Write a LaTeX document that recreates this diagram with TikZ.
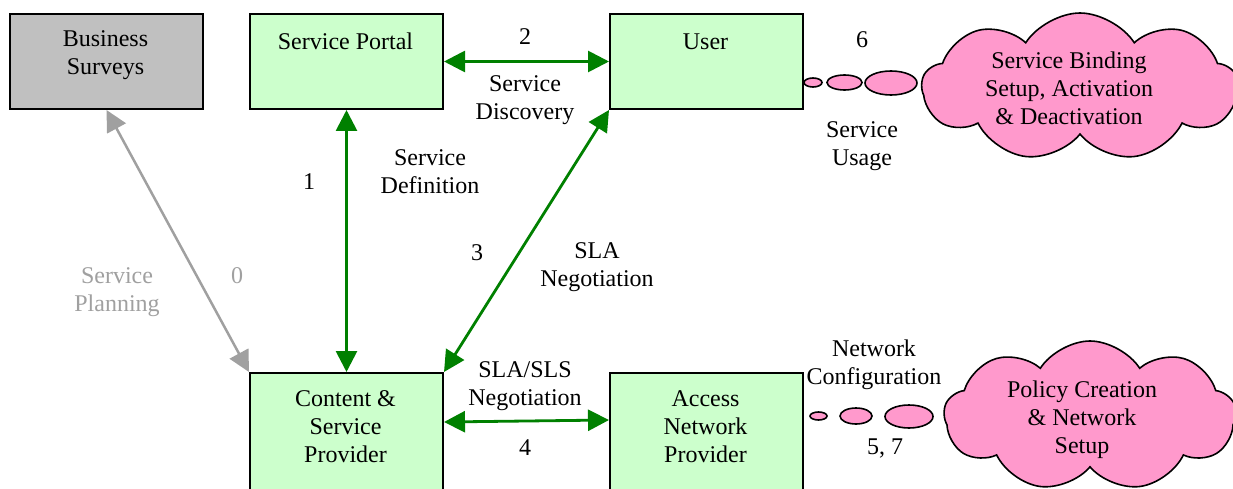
\documentclass[tikz,border=0pt]{standalone}
\usepackage{fontspec}
\setmainfont{Liberation Serif}
\usetikzlibrary{arrows.meta,shapes.symbols,shapes.geometric,calc}

\definecolor{boxgreen}{HTML}{CCFFCC}
\definecolor{boxgray}{HTML}{C0C0C0}
\definecolor{linkgreen}{HTML}{008000}
\definecolor{linkgray}{HTML}{A0A0A0}
\definecolor{cloudpink}{HTML}{FF99CC}

\tikzset{
  txt/.style={font=\fontsize{24}{28}\selectfont, align=center, inner sep=0pt, yshift=-2.5pt},
  greytxt/.style={txt, text=linkgray},
  panel/.style={draw=black, line width=2pt, inner sep=0pt, minimum width=193, minimum height=95, anchor=north west},
  tallpanel/.style={panel, minimum height=122},
  link/.style={draw=linkgreen, line width=2.8pt, {Triangle[length=21,width=21]}-{Triangle[length=21,width=21]}},
  planlink/.style={draw=linkgray, line width=2.5pt, {Triangle[length=21,width=21]}-{Triangle[length=21,width=21]}},
  bubble/.style={ellipse, draw=black, line width=1.6pt, fill=cloudpink, inner sep=0pt},
  thought/.style={cloud, cloud puffs=9, cloud puff arc=115, aspect=2.1, draw=black, line width=1.6pt,
                  fill=cloudpink, inner sep=0pt}
}

\begin{document}
\begin{tikzpicture}[x=1pt, y=-1pt]
\useasboundingbox (0,0) rectangle (1233,489);

% boxes
\node[panel, fill=boxgray]  (bs)  at (9,13)    {};
\node[panel, fill=boxgreen] (sp)  at (249,13)  {};
\node[panel, fill=boxgreen] (usr) at (609,13)  {};
\node[tallpanel, fill=boxgreen] (csp) at (249,372) {};
\node[tallpanel, fill=boxgreen] (anp) at (609,372) {};

% box titles
\node[txt] (bs-t)  at (105.5,53)  {Business\\Surveys};
\node[txt] (sp-t)  at (345.5,39)  {Service Portal};
\node[txt] (usr-t) at (705.5,39)  {User};
\node[txt] (csp-t) at (345.5,424) {Content \&\\Service\\Provider};
\node[txt] (anp-t) at (705.5,424) {Access\\Network\\Provider};

% clouds
\node[thought, minimum width=316, minimum height=148] (bind) at (1080,87) {};
\node[thought, minimum width=292, minimum height=150] (policy) at (1090,416) {};
\node[txt] (bind-t)   at (1069,85.5)  {Service Binding\\Setup, Activation\\\& Deactivation};
\node[txt] (policy-t) at (1082,417.5) {Policy Creation\\\& Network\\Setup};

% thought bubbles
\node[bubble, minimum width=18, minimum height=9]  (u1) at (813,82.5) {};
\node[bubble, minimum width=35, minimum height=15] (u2) at (844.5,82.5) {};
\node[bubble, minimum width=52, minimum height=24] (u3) at (891,83) {};
\node[bubble, minimum width=17, minimum height=8]  (n1) at (818.5,416) {};
\node[bubble, minimum width=32, minimum height=16] (n2) at (856,416) {};
\node[bubble, minimum width=48, minimum height=23] (n3) at (909,416.5) {};

% connectors
\draw[planlink] (bs.south) -- (csp.north west);
\draw[link] (sp.east) -- (usr.west);
\draw[link] (sp.south) -- (csp.north);
\draw[link] (usr.south west) -- (csp.north east);
\draw[link] ($(csp.north east)+(0,50)$) -- ($(anp.north west)+(0,48)$);

% connector labels
\node[txt] (l2)  at (525,34)   {2};
\node[txt] (l2t) at (525,97.5) {Service\\Discovery};
\node[txt] (l1)  at (309,179)  {1};
\node[txt] (l1t) at (430,169.5){Service\\Definition};
\node[txt] (l3)  at (477,250)  {3};
\node[txt] (l3t) at (597,265)  {SLA\\Negotiation};
\node[greytxt] (l0t) at (117,289.5) {Service\\Planning};
\node[greytxt] (l0)  at (237,273)   {0};
\node[txt] (l4t) at (525,383.5){SLA/SLS\\Negotiation};
\node[txt] (l4)  at (525,445)  {4};
\node[txt] (l6)  at (862,37)   {6};
\node[txt] (l6t) at (862,143.5){Service\\Usage};
\node[txt] (l5t) at (874,362)  {Network\\Configuration};
\node[txt] (l5)  at (885,446)  {5, 7};
\end{tikzpicture}
\end{document}
